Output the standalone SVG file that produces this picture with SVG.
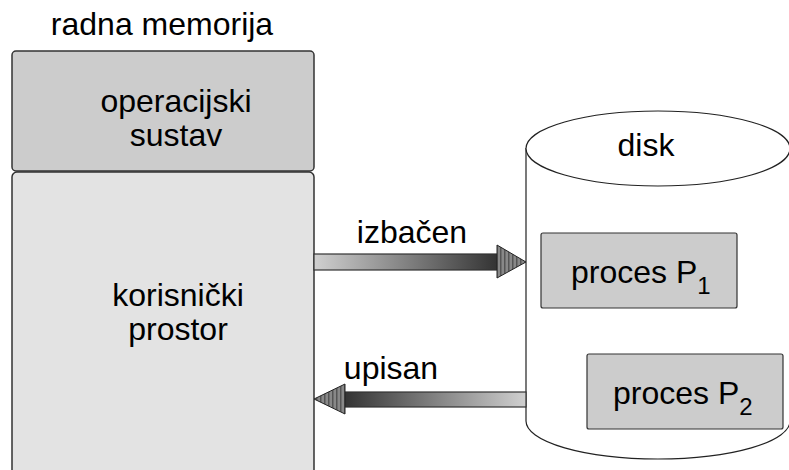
<svg xmlns="http://www.w3.org/2000/svg" width="789" height="470" viewBox="0 0 789 470">
  <style>
    text { font-family: "Liberation Sans", Arial, sans-serif; fill: #000; }
    .lbl { font-size: 32px; }
    .sub { font-size: 24px; }
    .box { stroke: #333; stroke-width: 1.5; }
    .os { fill: #cccccc; }
    .user { fill: #e3e3e3; }
    .proc { fill: #cccccc; stroke: #333; stroke-width: 1.2; }
    .disk { fill: #fff; stroke: #222; stroke-width: 1.2; }
    .shaft { stroke: #333; stroke-width: 1.2; }
    .head { fill: url(#stripes); stroke: #222; stroke-width: 1; }
  </style>
  <defs>
    <linearGradient id="gradRight" x1="0" y1="0" x2="1" y2="0">
      <stop offset="0" stop-color="#d0d0d0"/>
      <stop offset="1" stop-color="#333"/>
    </linearGradient>
    <linearGradient id="gradLeft" x1="0" y1="0" x2="1" y2="0">
      <stop offset="0" stop-color="#333"/>
      <stop offset="1" stop-color="#d0d0d0"/>
    </linearGradient>
    <pattern id="stripes" width="4" height="4" patternUnits="userSpaceOnUse">
      <rect width="4" height="4" fill="#888"/>
      <rect width="1.5" height="4" fill="#555"/>
    </pattern>
  </defs>

  <text class="lbl" x="162" y="35" text-anchor="middle">radna memorija</text>

  <g id="os">
    <rect class="box os" x="12" y="51" width="302" height="120" rx="4"/>
    <text class="lbl" x="176" y="112" text-anchor="middle">operacijski</text>
    <text class="lbl" x="176" y="146" text-anchor="middle">sustav</text>
  </g>

  <g id="user">
    <rect class="box user" x="12" y="172" width="302" height="320" rx="5"/>
    <text class="lbl" x="178" y="306" text-anchor="middle">korisnički</text>
    <text class="lbl" x="178" y="340" text-anchor="middle">prostor</text>
  </g>

  <g id="disk">
    <path class="disk" d="M526,148 L526,421 A132,38 0 0 0 790,421 L790,148"/>
    <ellipse class="disk" cx="658" cy="148.5" rx="132" ry="37.5"/>
    <text class="lbl" x="646" y="156" text-anchor="middle">disk</text>
  </g>

  <g id="p1">
    <rect class="proc" x="541" y="233" width="196" height="75" rx="2"/>
    <text class="lbl" x="571" y="283">proces P<tspan class="sub" dy="11">1</tspan></text>
  </g>

  <g id="p2">
    <rect class="proc" x="587" y="354" width="196" height="75" rx="2"/>
    <text class="lbl" x="613" y="404">proces P<tspan class="sub" dy="11">2</tspan></text>
  </g>

  <g id="connectors">
    <g id="swap-out">
      <rect class="shaft" x="314" y="254" width="184" height="16" fill="url(#gradRight)"/>
      <polygon class="head" points="497,245 526,262 497,278"/>
      <text class="lbl" x="412" y="243" text-anchor="middle">izbačen</text>
    </g>
    <g id="swap-in">
      <rect class="shaft" x="344" y="392" width="182" height="15" fill="url(#gradLeft)"/>
      <polygon class="head" points="345,384 314,399 345,414"/>
      <text class="lbl" x="391" y="379" text-anchor="middle">upisan</text>
    </g>
  </g>
</svg>
